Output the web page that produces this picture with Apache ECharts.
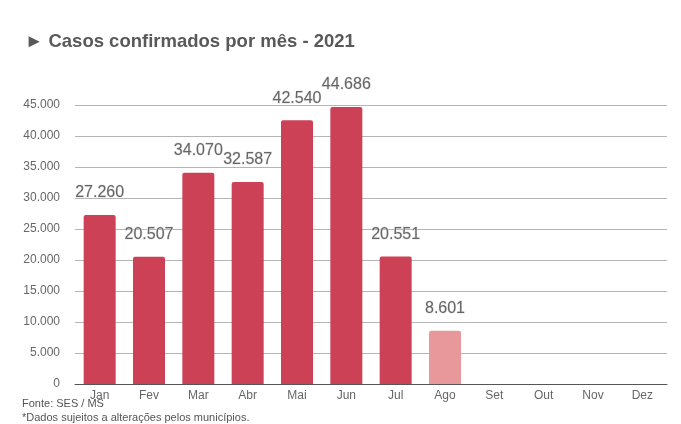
<!DOCTYPE html>
<html>
<head>
<meta charset="utf-8">
<script src="https://cdn.jsdelivr.net/npm/echarts@6/dist/echarts.min.js"></script>
<style>
html,body{margin:0;padding:0;background:#fff;}
#chart{width:681px;height:424px;}
</style>
</head>
<body>
<div id="chart"></div>
<script>
var months = ['Jan','Fev','Mar','Abr','Mai','Jun','Jul','Ago','Set','Out','Nov','Dez'];
var cases = [27260, 20507, 34070, 32587, 42540, 44686, 20551, 8601, null, null, null, null];
var partialMonth = 'Ago';
var titleText = '► Casos confirmados por mês - 2021';
var sourceText = 'Fonte: SES / MS';
var noteText = '*Dados sujeitos a alterações pelos municípios.';

function fmt(v){
  return String(Math.round(v)).replace(/\B(?=(\d{3})+(?!\d))/g, '.');
}

var barData = cases.map(function(v, i){
  if (v === null) return null;
  var partial = months[i] === partialMonth;
  return {value: v, itemStyle: {color: partial ? '#e8979b' : '#cc4155'}};
});

var chart = echarts.init(document.getElementById('chart'), null, {renderer:'canvas'});
chart.setOption({
  animation: false,
  backgroundColor: '#fff',
  textStyle: {fontFamily: 'Liberation Sans, Arial, sans-serif'},
  title: {
    text: titleText,
    left: 20, top: 27,
    textStyle: {fontSize: 18.5, fontWeight: 'bold', color: '#595959', fontFamily: 'Liberation Sans, Arial, sans-serif'}
  },
  graphic: [
    {type:'text', left: 22, top: 398, style:{text: sourceText, fontSize: 11, fill:'#555', fontFamily:'Liberation Sans, Arial, sans-serif'}},
    {type:'text', left: 22, top: 412, style:{text: noteText, fontSize: 11, fill:'#555', fontFamily:'Liberation Sans, Arial, sans-serif'}}
  ],
  grid: {left: 75, right: 14, top: 105, bottom: 40, containLabel: false},
  xAxis: {
    type: 'category',
    data: months,
    axisLine: {show: true, lineStyle: {color: '#555', width: 1}},
    axisTick: {show: false},
    axisLabel: {color: '#666', fontSize: 12, margin: 6}
  },
  yAxis: {
    type: 'value',
    min: 0, max: 45000, interval: 5000,
    axisLine: {show: false},
    axisTick: {show: false},
    splitLine: {lineStyle: {color: '#b5b5b5', width: 1}},
    axisLabel: {color: '#666', fontSize: 12, margin: 15, formatter: fmt}
  },
  series: [{
    type: 'bar',
    data: barData,
    barWidth: 32,
    itemStyle: {borderRadius: [2,2,0,0]},
    label: {
      show: true,
      position: 'top',
      distance: 14,
      fontSize: 16,
      color: '#666',
      textBorderColor: '#e4e4e4',
      textBorderWidth: 1,
      formatter: function(p){ return fmt(p.value); }
    }
  }]
});
</script>
</body>
</html>
